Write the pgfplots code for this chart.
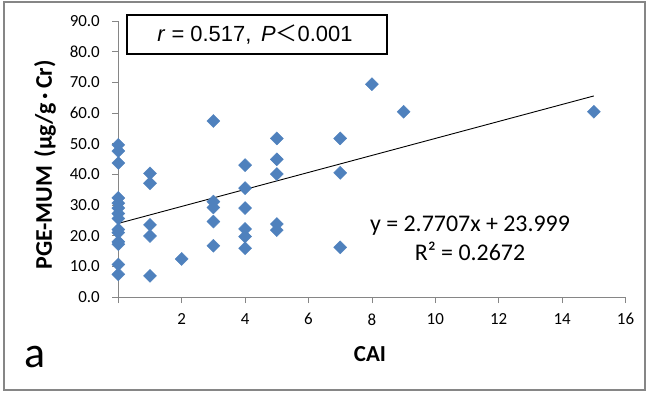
\documentclass[border=0pt]{standalone}
\usepackage{pgfplots}
\pgfplotsset{compat=1.18}
\usepackage{fontspec}
\setmainfont{Carlito}
\newfontfamily\arial{Liberation Sans}
\newfontfamily\cjk{Noto Sans CJK SC}
\definecolor{mblue}{HTML}{4F81BD}
\definecolor{agray}{HTML}{868686}
\begin{document}
\begin{tikzpicture}[x=1bp,y=1bp]
\useasboundingbox (0,0) rectangle (649,397);
\draw[agray, line width=1.5bp] (4,7) rectangle (645,395);
\begin{axis}[
  at={(118.3bp,100bp)}, anchor=south west, scale only axis,
  width=507.2bp, height=276bp,
  xmin=0, xmax=16, ymin=0, ymax=90,
  axis x line*=bottom, axis y line*=left,
  axis line style={agray, line width=0.8bp, -},
  xtick={0,2,...,16}, xticklabels={{},2,4,6,8,10,12,14,16},
  ytick={0,10,...,90},
  tick align=outside, major tick length=6bp,
  tick style={agray, line width=0.8bp},
  /pgf/number format/assume math mode=true,
  yticklabel style={/pgf/number format/fixed, /pgf/number format/fixed zerofill, /pgf/number format/precision=1, xshift=-9bp},
  xticklabel style={yshift=-7bp},
  tick label style={font=\fontsize{17}{17}\selectfont, text=black},
  clip=false,
]
\addplot[only marks, mark=square*, mark size=4.6bp, mark options={rotate=45, fill=mblue, draw=mblue}] coordinates {
 (0,49.6) (0,47.6) (0,43.7) (0,32.3) (0,30.6) (0,29.0) (0,27.2) (0,25.6) (0,22.0) (0,21.0) (0,18.0) (0,17.2) (0,10.6) (0,7.4)
 (1,40.3) (1,37.1) (1,23.5) (1,19.9) (1,6.9)
 (2,12.4)
 (3,57.4) (3,31.1) (3,29.2) (3,24.6) (3,16.7)
 (4,43.0) (4,35.5) (4,29.0) (4,22.2) (4,19.7) (4,15.9)
 (5,51.7) (5,44.9) (5,40.1) (5,23.8) (5,21.8)
 (7,51.7) (7,40.5) (7,16.2)
 (8,69.4)
 (9,60.4)
 (15,60.4)
};
\addplot[black, line width=0.9bp] coordinates {(0,23.999) (15,65.5595)};
\end{axis}
\node[rotate=90, font=\fontsize{24}{24}\selectfont\bfseries] at (45,232) {PGE-MUM\hspace{0.35em}(μg/g\,·\,Cr)};
\node[font=\fontsize{23}{23}\selectfont\bfseries] at (370,42.5) {CAI};
\node[font=\fontsize{44}{44}\selectfont] at (35,40) {a};
\node[anchor=base, font=\fontsize{24}{24}\selectfont] at (470,166) {y = 2.7707x + 23.999};
\node[anchor=base, font=\fontsize{24}{24}\selectfont] at (470,137) {R² = 0.2672};
\draw[black, line width=1.3bp] (127,343) rectangle (387,382);
\node[anchor=base, font=\fontsize{22}{22}\selectfont\arial] at (255,355.3) {\textit{r} = 0.517,\, \textit{P}{\cjk ＜}0.001};
\end{tikzpicture}
\end{document}
